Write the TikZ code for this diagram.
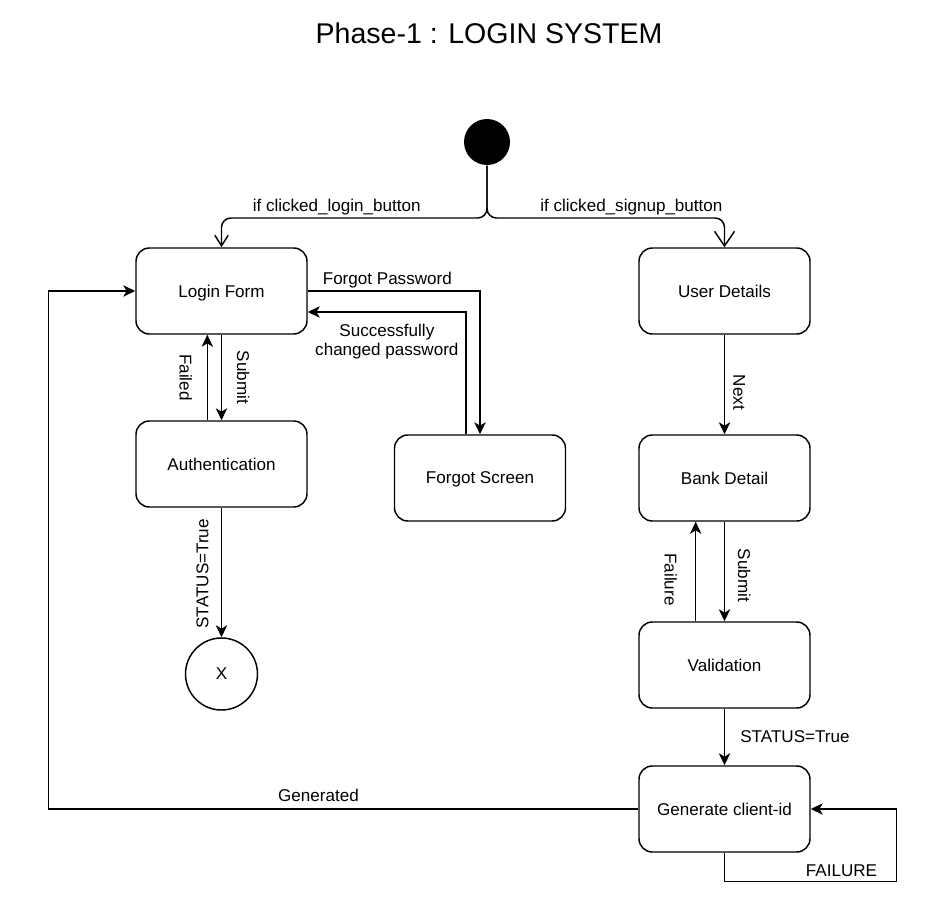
\documentclass[tikz,border=0pt]{standalone}
\usepackage{fontspec}
\setmainfont{Liberation Sans}
\usetikzlibrary{positioning, arrows.meta}

\tikzset{
  screen/.style={draw, rectangle, rounded corners=10pt, minimum width=128.25pt, minimum height=64.5pt, text depth=0pt},
  arr/.style={-{Stealth[length=9pt,width=8.5pt,inset=2.5pt]}},
  vlabel/.style={rotate=-90},
}

\begin{document}
\begin{tikzpicture}
	[x=0.75pt, y=-0.75pt, on grid, line width=1.1pt,
	 every node/.style={font=\fontsize{12.8}{14.3}\selectfont}]
   \useasboundingbox (0,0) rectangle (928,917);
   \node (title) at (489,33) [font=\fontsize{21.4}{24}\selectfont] {Phase-1 : LOGIN SYSTEM};
   \node[circle, fill=black, minimum size=34.5pt, inner sep=0pt] (start) at (487,142) {};
   \coordinate[below=57pt of start] (fork);
   \node[screen] (login) at (221.5,291) {Login Form};
   \node[screen] (user) [right=377.25pt of login] {User Details};
   \node[screen] (auth) [below=129.75pt of login] {Authentication};
   \node[circle, draw, minimum size=54pt, inner sep=0pt] (final) [below=157.5pt of auth] {X};
   \node[screen] (forgot) at (480,478) {Forgot Screen};
   \node[screen] (bank) [below=140.25pt of user] {Bank Detail};
   \node[screen] (valid) [below=140.25pt of bank] {Validation};
   \node[screen] (gen) [below=108pt of valid] {Generate client-id};

   % start branches
   \draw[-{Straight Barb[length=8pt,width=10pt]}, rounded corners=7pt] (start) -- (fork)
      -| node[pos=.283, above, inner sep=2pt] {if clicked\_login\_button} (login);
   \draw[-{Straight Barb[length=11pt,width=15pt]}, rounded corners=7pt] (start) -- (fork)
      -| node[pos=.304, above, inner sep=2pt] {if clicked\_signup\_button} (user);

   % login side
   \draw[arr] (login) -- node[vlabel, anchor=south, inner ysep=11.1pt] {Submit} (auth);
   \draw[arr] ([xshift=-10.65pt]auth.north) -- node[vlabel, anchor=north, inner ysep=11pt] {Failed} ([xshift=-10.65pt]login.south);
   \draw[arr] (auth) -- node[pos=.51, rotate=90, anchor=south, inner ysep=9.2pt] {STATUS=True} (final);
   \draw[arr] (login.east) -| node[pos=.231, above=-1.5pt] {Forgot Password} (forgot.north);
   \draw[arr] ([xshift=-10.5pt]forgot.north) |- node[pos=.75, below=5pt, align=center] {Successfully\\changed password} ([yshift=-15.75pt]login.east);

   % signup side
   \draw[arr] (user) -- node[pos=.58, vlabel, anchor=south, inner ysep=5.9pt] {Next} (bank);
   \draw[arr] (bank) -- node[pos=.54, vlabel, anchor=south, inner ysep=9.6pt] {Submit} (valid);
   \draw[arr] ([xshift=-21.6pt]valid.north) -- node[pos=.42, vlabel, anchor=north, inner ysep=13.4pt] {Failure} ([xshift=-21.6pt]bank.south);
   \draw[arr] (valid) -- node[right=8pt] {STATUS=True} (gen);
   \draw[arr] (gen.west) -- node[pos=.542, above=1.5pt] {Generated} ++(-590,0) |- (login.west);
   \draw[arr] (gen.south) -- ++(0,29) -- node[pos=.68, above] {FAILURE} ++(172,0) |- (gen.east);
\end{tikzpicture}
\end{document}
